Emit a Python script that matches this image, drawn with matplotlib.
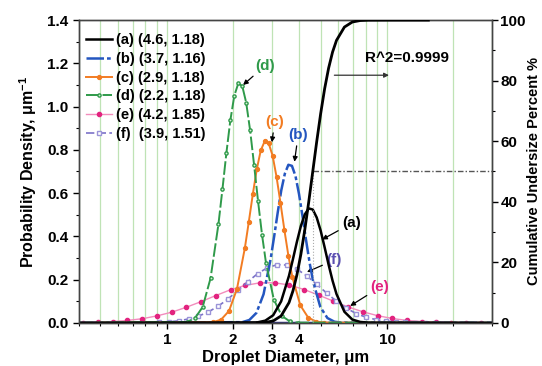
import matplotlib.pyplot as plt
from matplotlib.ticker import FixedLocator, FixedFormatter, NullFormatter, MultipleLocator

plt.rcParams['font.family'] = ['Liberation Sans', 'DejaVu Sans']
plt.rcParams['font.weight'] = 'bold'
plt.rcParams['mathtext.fontset'] = 'custom'
plt.rcParams['mathtext.rm'] = 'Liberation Sans:bold'
plt.rcParams['mathtext.default'] = 'rm'

# values
labels = ['(a) (4.6, 1.18)', '(b) (3.7, 1.16)', '(c) (2.9, 1.18)',
          '(d) (2.2, 1.18)', '(e) (4.2, 1.85)', '(f)  (3.9, 1.51)']

x_a = [0.4, 2.577, 2.800, 3.041, 3.304, 3.589, 3.740, 3.898, 4.063, 4.235, 4.414, 4.600,
       4.794, 4.997, 5.208, 5.428, 5.657, 5.896, 6.405, 6.958, 7.558, 8.210, 30]
y_a = [0, 0.002, 0.010, 0.035, 0.099, 0.218, 0.295, 0.375, 0.448, 0.502, 0.529, 0.524,
       0.487, 0.426, 0.349, 0.269, 0.195, 0.133, 0.051, 0.015, 0.004, 0.001, 0]

x_b = [0.4, 2.201, 2.370, 2.553, 2.750, 2.961, 3.073, 3.190, 3.310, 3.436, 3.565, 3.700,
       3.840, 3.985, 4.136, 4.292, 4.454, 4.623, 4.979, 5.362, 5.775, 6.220, 30]
y_b = [0, 0.003, 0.013, 0.046, 0.132, 0.295, 0.400, 0.511, 0.613, 0.690, 0.731, 0.726,
       0.679, 0.595, 0.491, 0.380, 0.276, 0.189, 0.073, 0.022, 0.005, 0.001, 0]

x_c = [0.4, 1.625, 1.765, 1.917, 2.083, 2.262, 2.358, 2.458, 2.562, 2.670, 2.783, 2.900,
       3.023, 3.150, 3.283, 3.422, 3.567, 3.717, 4.038, 4.386, 4.765, 5.176, 30]
y_c = [0, 0.003, 0.015, 0.055, 0.157, 0.346, 0.468, 0.595, 0.710, 0.797, 0.840, 0.831,
       0.773, 0.675, 0.554, 0.427, 0.309, 0.211, 0.081, 0.024, 0.006, 0.001, 0]

x_d = [0.4, 1.233, 1.339, 1.455, 1.580, 1.716, 1.789, 1.864, 1.943, 2.025, 2.111, 2.200,
       2.293, 2.390, 2.491, 2.596, 2.706, 2.820, 3.063, 3.328, 3.615, 3.926, 30]
y_d = [0, 0.004, 0.020, 0.073, 0.206, 0.456, 0.617, 0.784, 0.936, 1.050, 1.107, 1.096,
       1.019, 0.890, 0.730, 0.563, 0.408, 0.278, 0.107, 0.032, 0.007, 0.001, 0]

x_e = [0.418, 0.488, 0.569, 0.663, 0.774, 0.902, 1.052, 1.227, 1.431, 1.669, 1.947, 2.270,
       2.648, 3.088, 3.601, 4.200, 4.898, 5.713, 6.662, 7.770, 9.062, 10.568, 12.325,
       14.375, 16.764, 19.552, 22.802, 26.593]
y_e = [0.001, 0.003, 0.006, 0.011, 0.019, 0.032, 0.049, 0.072, 0.098, 0.126, 0.153, 0.173,
       0.185, 0.185, 0.175, 0.154, 0.128, 0.100, 0.073, 0.051, 0.033, 0.020, 0.011,
       0.006, 0.003, 0.001, 0.001, 0.000]

x_f = [0.4, 0.922, 1.022, 1.133, 1.256, 1.392, 1.543, 1.711, 1.896, 2.102, 2.330, 2.583,
       2.863, 3.174, 3.518, 3.900, 4.323, 4.792, 5.313, 5.889, 6.528, 7.237, 8.022, 8.892,
       9.857, 10.927, 12.113, 13.428, 14.885, 16.500, 30]
y_f = [0, 0.002, 0.005, 0.009, 0.018, 0.031, 0.050, 0.077, 0.110, 0.150, 0.190, 0.227,
       0.255, 0.269, 0.267, 0.248, 0.217, 0.178, 0.138, 0.100, 0.068, 0.043, 0.026, 0.015,
       0.008, 0.004, 0.002, 0.001, 0.000, 0.000, 0]

# cumulative undersize of (a), percent
cdf_x = [2.577, 2.800, 3.041, 3.304, 3.589, 3.740, 3.898, 4.063, 4.235, 4.414, 4.600,
         4.794, 4.997, 5.208, 5.428, 5.657, 5.896, 6.405, 6.958, 7.558, 8.210, 10.0, 15.4]
cdf_y = [0.02, 0.13, 0.62, 2.28, 6.68, 10.57, 15.87, 22.66, 30.85, 40.13, 50.0,
         59.87, 69.15, 77.34, 84.13, 89.44, 93.32, 97.72, 99.38, 99.87, 99.98, 100, 100]
d50_a = 4.6
half = 50

xmajor = [1, 2, 3, 4, 10]
xminor = [0.4, 0.5, 0.6, 0.7, 0.8, 0.9, 5, 6, 7, 8, 9, 20, 30]

fig = plt.figure(figsize=(5.42, 3.66), dpi=100)
ax = fig.add_axes([0.146, 0.118, 0.762, 0.827])
ax2 = ax.twinx()

ax.axhline(0, color='#34347e', lw=2.5, zorder=1)
ax.plot(x_a, y_a, color='black', lw=1.8, label=labels[0], zorder=5)
ax.plot(x_b, y_b, color='#2456c0', lw=1.8, ls=(0, (7, 1.2, 1.5, 1.2)), label=labels[1], zorder=4)
ax.plot(x_c, y_c, color='#f27c22', lw=1.4, marker='o', ms=2.8, markevery=slice(1, -1),
        label=labels[2], zorder=4)
ax.plot(x_d, y_d, color='#2f9a4a', lw=1.4, ls=(0, (7, 1.5)), marker='o', ms=2.3, mfc='#d8efd8',
        markevery=slice(1, -1), label=labels[3], zorder=4)
ax.plot(x_e, y_e, color='#f28cbc', lw=1.0, marker='o', ms=3.0, mfc='#e2237f', mec='#e2237f',
        label=labels[4], zorder=3)
ax.plot(x_f, y_f, color='#7b72c8', lw=1.2, ls=(0, (5, 2)), marker='s', ms=2.8, mfc='white',
        mec='#9b94d8', markevery=slice(1, -1), label=labels[5], zorder=3)

ax.set_xscale('log')
ax.set_xlim(0.4, 30)
ax.set_ylim(0, 1.4)
ax.xaxis.set_major_locator(FixedLocator(xmajor))
ax.xaxis.set_major_formatter(FixedFormatter([str(v) for v in xmajor]))
ax.xaxis.set_minor_locator(FixedLocator(xminor))
ax.xaxis.set_minor_formatter(NullFormatter())
ax.yaxis.set_major_locator(MultipleLocator(0.2))
ax.yaxis.set_minor_locator(MultipleLocator(0.1))
ax.grid(which='both', axis='x', color='#bfe3b5', lw=0.9, zorder=0)
ax.set_axisbelow(True)

ax2.plot(cdf_x, cdf_y, color='black', lw=2.0, zorder=5)
ax2.hlines(half, d50_a, 30, color='#555555', lw=1.0, ls=(0, (4, 1.5, 1, 1.5)))
ax2.vlines(d50_a, 0, half, color='#aaaaaa', lw=0.8, ls=':')
ax2.set_ylim(0, 100)
ax2.yaxis.set_major_locator(MultipleLocator(20))
ax2.yaxis.set_minor_locator(MultipleLocator(10))

for a in (ax, ax2):
    a.tick_params(which='major', direction='out', length=4, width=1, labelsize=11)
    a.tick_params(which='minor', direction='out', length=2.5, width=0.8)
    for sp in a.spines.values():
        sp.set_color('#444444')
        sp.set_linewidth(1.0)
ax2.tick_params(which='major', pad=2)

ax.set_xlabel('Droplet Diameter, μm', fontsize=12, fontweight='bold', labelpad=2)
ax.set_ylabel('Probability Density, μm$^{-1}$', fontsize=11.5, fontweight='bold', labelpad=6)
ax2.set_ylabel('Cumulative Undersize Percent %', fontsize=10.5, fontweight='bold', labelpad=1)

leg = ax.legend(loc='upper left', bbox_to_anchor=(-0.005, 0.985), frameon=False, fontsize=10.5,
                handlelength=1.8, labelspacing=0.32, handletextpad=0.3, borderaxespad=0.2)

arr = dict(arrowstyle='-|>', color='black', lw=0.9, mutation_scale=7, shrinkA=1, shrinkB=0)
ax.annotate('(a)', xy=(5.07, 0.385), xytext=(6.9, 0.46), color='black', fontsize=11,
            ha='center', va='center', arrowprops=arr)
ax.annotate('(f)', xy=(4.33, 0.235), xytext=(5.75, 0.29), color='#5a4fb0', fontsize=11,
            ha='center', va='center', arrowprops=arr)
ax.annotate('(e)', xy=(6.8, 0.078), xytext=(9.3, 0.165), color='#e2237f', fontsize=11,
            ha='center', va='center', arrowprops=arr)
ax.annotate('(b)', xy=(3.8, 0.745), xytext=(3.95, 0.87), color='#2456c0', fontsize=11,
            ha='center', va='center', arrowprops=arr)
ax.annotate('(c)', xy=(3.0, 0.835), xytext=(3.09, 0.93), color='#f27c22', fontsize=11,
            ha='center', va='center', arrowprops=arr)
ax.annotate('(d)', xy=(2.22, 1.10), xytext=(2.8, 1.19), color='#2f9a4a', fontsize=11,
            ha='center', va='center', arrowprops=arr)

ax2.text(12.3, 87.4, 'R^2=0.9999', fontsize=11, fontweight='bold', ha='center', va='center')
ax2.annotate('', xy=(10.5, 81.8), xytext=(5.6, 81.8),
             arrowprops=dict(arrowstyle='-|>', color='#333333', lw=0.9, mutation_scale=7))

fig.savefig('out.png', dpi=100)
